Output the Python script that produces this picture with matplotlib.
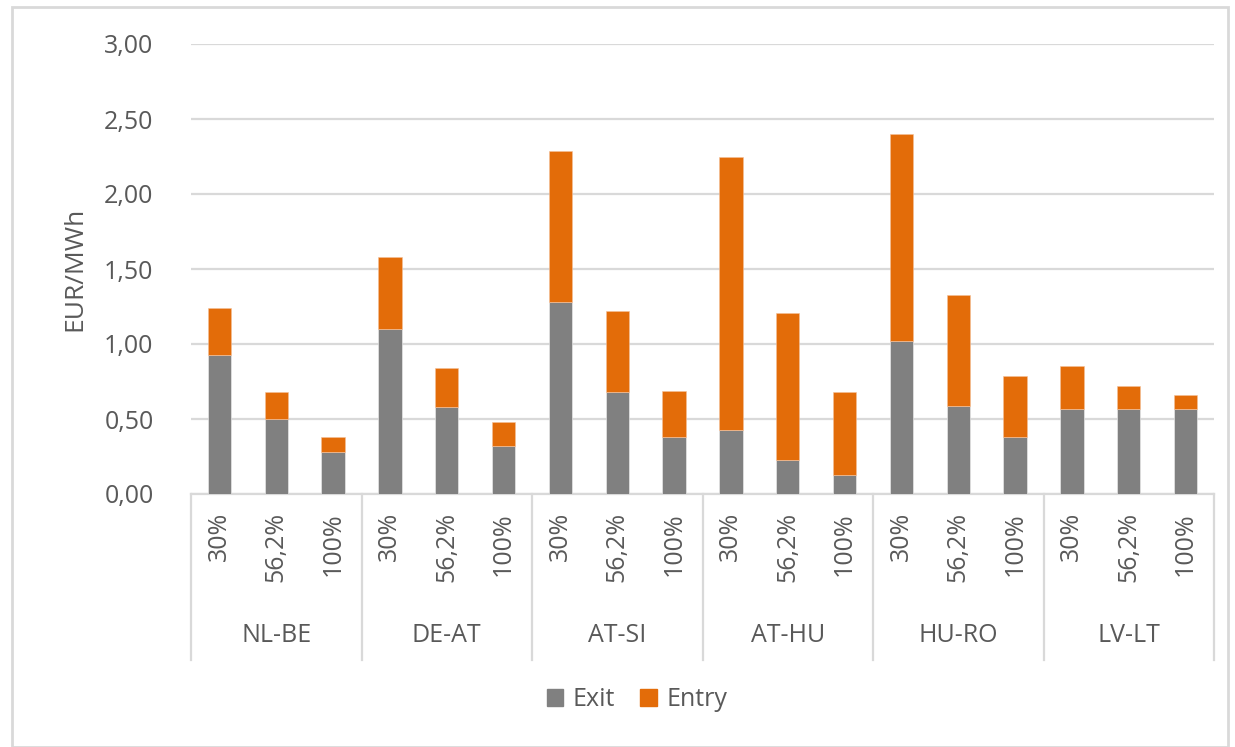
import numpy as np
import matplotlib.pyplot as plt
from matplotlib.patches import Rectangle
from matplotlib.lines import Line2D
import matplotlib.transforms as mtransforms

# data
routes = ['NL-BE', 'DE-AT', 'AT-SI', 'AT-HU', 'HU-RO', 'LV-LT']
levels = ['30%', '56,2%', '100%']
exit_vals = [0.93, 0.50, 0.28,
             1.10, 0.58, 0.32,
             1.28, 0.68, 0.38,
             0.43, 0.23, 0.13,
             1.02, 0.59, 0.38,
             0.57, 0.57, 0.57]
totals = [1.24, 0.68, 0.38,
          1.58, 0.84, 0.48,
          2.29, 1.22, 0.69,
          2.25, 1.21, 0.68,
          2.40, 1.33, 0.79,
          0.855, 0.72, 0.66]
entry_vals = [t - e for t, e in zip(totals, exit_vals)]

grey = '#808080'
orange = '#E36C09'
txt = '#595959'
gridc = '#D9D9D9'

plt.rcParams['font.family'] = ['Open Sans', 'DejaVu Sans']

W, H = 1235, 747
fig = plt.figure(figsize=(W / 100, H / 100), dpi=100)
ax = fig.add_axes([191 / W, 1 - 494 / H, (1214 - 191) / W, (494 - 44) / H])

x = np.arange(len(exit_vals))
bw = 0.41
ax.bar(x, exit_vals, width=bw, color=grey, edgecolor='#f0f0f0', linewidth=0.4, zorder=3)
ax.bar(x, entry_vals, width=bw, bottom=exit_vals, color=orange, edgecolor='#f5c09a', linewidth=0.4, zorder=3)

ax.set_xlim(-0.5, len(x) - 0.5)
ax.set_ylim(0, 3.0)
ax.set_yticks(np.arange(0, 3.01, 0.5))
ax.set_yticklabels([f'{v:.2f}'.replace('.', ',') for v in np.arange(0, 3.01, 0.5)])
ax.yaxis.grid(True, color=gridc, linewidth=1.6, zorder=0)
for s in ['top', 'right', 'left']:
    ax.spines[s].set_visible(False)
ax.spines['bottom'].set_color(gridc)
ax.spines['bottom'].set_linewidth(1.6)
ax.tick_params(axis='y', length=0, pad=27, labelsize=18, labelcolor=txt)

ax.set_xticks(x)
ax.set_xticklabels(levels * len(routes), rotation=90, va='top', ha='center')
ax.tick_params(axis='x', length=0, pad=13, labelsize=18, labelcolor=txt)

ax.set_ylabel('EUR/MWh', fontsize=19, color=txt, labelpad=12)

# group labels and separators below the axis
trans = mtransforms.blended_transform_factory(ax.transData, ax.transAxes)
ah = 494 - 44
for i in range(len(routes) + 1):
    xs = i * 3 - 0.5
    ax.add_line(Line2D([xs, xs], [0, -(660 - 494) / ah], transform=trans,
                       color=gridc, linewidth=1.6, clip_on=False))
for i, r in enumerate(routes):
    ax.text(i * 3 + 1, -(636 - 494) / ah, r, transform=trans, ha='center', va='center',
            fontsize=18, color=txt)

handles = [Rectangle((0, 0), 1, 1, color=grey), Rectangle((0, 0), 1, 1, color=orange)]
fig.legend(handles, ['Exit', 'Entry'], loc='center', bbox_to_anchor=(637 / W, 1 - 700 / H),
           ncol=2, frameon=False, fontsize=18, labelcolor=txt,
           handlelength=0.65, handleheight=0.65, handletextpad=0.4, columnspacing=1.0)

# outer chart border
fig.patches.append(Rectangle((12 / W, 0), (1228 - 12) / W, 1 - 7 / H, transform=fig.transFigure,
                             fill=False, edgecolor=gridc, linewidth=2))

fig.savefig('out.png', dpi=100)
